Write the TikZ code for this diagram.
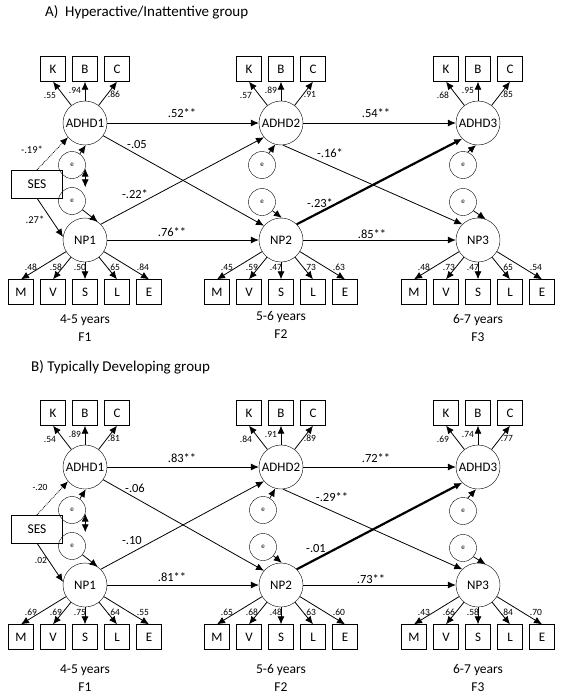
\documentclass[tikz,border=0pt]{standalone}
\usepackage{fontspec}
\setmainfont{Carlito}
\usetikzlibrary{arrows.meta}

\begin{document}
\begin{tikzpicture}[x=1pt, y=-1pt,
  lat/.style={draw=black, circle, minimum size=44pt, inner sep=0pt, font=\fontsize{13}{15}\selectfont},
  obs/.style={draw=black, minimum size=25pt, inner sep=0pt, font=\fontsize{13}{15}\selectfont},
  err/.style={draw=black, circle, minimum size=27pt, inner sep=0pt, font=\fontsize{7}{8}\selectfont},
  ses/.style={draw=black, minimum width=51pt, minimum height=28pt, inner sep=0pt, font=\fontsize{13.5}{15}\selectfont},
  coef/.style={font=\fontsize{12.5}{14}\selectfont, inner sep=0pt},
  sescoef/.style={font=\fontsize{10.5}{12}\selectfont, inner sep=0pt},
  ld/.style={font=\fontsize{9.5}{11}\selectfont, inner sep=0pt},
  lbl/.style={font=\fontsize{13.5}{16}\selectfont, inner sep=0pt},
  ttl/.style={font=\fontsize{15}{18}\selectfont, inner sep=0pt, anchor=west},
  arr/.style={-{Latex[length=8pt,width=7pt]}, line width=0.8pt},
  twoway/.style={{Latex[length=8pt,width=7pt]}-{Latex[length=8pt,width=7pt]}, line width=0.8pt}
]
\useasboundingbox (0,0) rectangle (562,698);

% A) Hyperactive/Inattentive group
\node[ttl] (atitle) at (45,12) {A)\ \ Hyperactive/Inattentive group};

\node[lat] (aadhd1) at (85,123) {ADHD1};
\node[lat] (aadhd2) at (281,123) {ADHD2};
\node[lat] (aadhd3) at (478,123) {ADHD3};
\node[lat] (anp1) at (85,240) {NP1};
\node[lat] (anp2) at (281,240) {NP2};
\node[lat] (anp3) at (478,240) {NP3};
\node[ses] (ases) at (37,184) {SES};
\node[err] (ae1) at (72,165) {e};
\node[err] (ae2) at (72,201) {e};
\node[err] (ae3) at (262,165) {e};
\node[err] (ae4) at (262,202) {e};
\node[err] (ae5) at (463,165) {e};
\node[err] (ae6) at (463,202) {e};

\foreach \c/\x/\la/\lb/\lc in {1/85/.55/.94/.86, 2/281/.57/.89/.91, 3/478/.68/.95/.85} {
  \node[obs] (ak\c) at (\x-32,69) {K};
  \node[obs] (ab\c) at (\x,69) {B};
  \node[obs] (ac\c) at (\x+32,69) {C};
  \draw[arr] (aadhd\c) -- (ak\c.south);
  \draw[arr] (aadhd\c) -- (ab\c.south);
  \draw[arr] (aadhd\c) -- (ac\c.south);
  \node[ld] (akl\c) at ([shift={(-3,14)}]ak\c.south) {\la};
  \node[ld] (abl\c) at ([shift={(-10,9)}]ab\c.south) {\lb};
  \node[ld] (acl\c) at ([shift={(-3,13)}]ac\c.south) {\lc};
}
\foreach \c/\x/\lM/\lV/\lS/\lL/\lE in {1/85/.48/.58/.50/.65/.84, 2/281/.45/.59/.47/.73/.63, 3/478/.48/.73/.47/.65/.54} {
  \foreach \i/\t/\dx/\v in {0/M/10/\lM, 1/V/3/\lV, 2/S/-5/\lS, 3/L/-3/\lL, 4/E/-6/\lE} {
    \node[obs] (anp\c\t) at (\x-64+32*\i,292) {\t};
    \draw[arr] (anp\c) -- (anp\c\t.north);
    \node[ld] (anp\c\t l) at ([shift={(\dx,-12)}]anp\c\t.north) {\v};
  }
}

\draw[arr] (aadhd1) -- (aadhd2);
\draw[arr] (aadhd2) -- (aadhd3);
\draw[arr] (anp1) -- (anp2);
\draw[arr] (anp2) -- (anp3);
\draw[arr] (aadhd1.-35) -- (anp2.140);
\draw[arr] (anp1.45) -- (aadhd2.-140);
\draw[arr] (aadhd2.-85) -- (anp3.135);
\draw[arr, line width=2.2pt] (anp2.45) -- (aadhd3.-135);
\draw[arr, densely dotted] (ases.north) -- (aadhd1.-140);
\draw[arr] (ases.south) -- (anp1.172);
\draw[arr] (ae1.55) -- (aadhd1.-88);
\draw[arr] (ae2.-40) -- (anp1.55);
\draw[arr] (ae3.60) -- (aadhd2.-105);
\draw[arr] (ae4.-40) -- (anp2.88);
\draw[arr] (ae5.70) -- (aadhd3.-95);
\draw[arr] (ae6.-40) -- (anp3.70);
\draw[twoway] (ae1.-15) -- (ae1.-15 |- ae2.north);

\node[coef] (ac12) at (182,113) {.52**};
\node[coef] (ac23) at (376,113) {.54**};
\node[coef] (acx1) at (137,144) {-.05};
\node[coef] (acx2) at (135,194) {-.22*};
\node[coef] (acn12) at (172,232) {.76**};
\node[coef] (acn23) at (372,234) {.85**};
\node[coef] (acx3) at (330,153) {-.16*};
\node[coef] (acx4) at (320,203) {-.23*};
\node[sescoef] (acs1) at (32,150) {-.19*};
\node[sescoef] (acs2) at (35,220) {.27*};

\node[lbl] (ay1) at (85,320) {4-5 years};
\node[lbl] (af1) at (85,337) {F1};
\node[lbl] (ay2) at (281,317) {5-6 years};
\node[lbl] (af2) at (281,334) {F2};
\node[lbl] (ay3) at (478,320) {6-7 years};
\node[lbl] (af3) at (478,337) {F3};

% B) Typically Developing group
\node[ttl] (btitle) at (31,367) {B) Typically Developing group};

\node[lat] (badhd1) at (85,467) {ADHD1};
\node[lat] (badhd2) at (281,467) {ADHD2};
\node[lat] (badhd3) at (478,467) {ADHD3};
\node[lat] (bnp1) at (85,585) {NP1};
\node[lat] (bnp2) at (281,585) {NP2};
\node[lat] (bnp3) at (478,585) {NP3};
\node[ses] (bses) at (37,529) {SES};
\node[err] (be1) at (72,510) {e};
\node[err] (be2) at (72,546) {e};
\node[err] (be3) at (263,510) {e};
\node[err] (be4) at (263,547) {e};
\node[err] (be5) at (463,511) {e};
\node[err] (be6) at (463,548) {e};

\foreach \c/\x/\la/\lb/\lc in {1/85/.54/.89/.81, 2/281/.84/.91/.89, 3/478/.69/.74/.77} {
  \node[obs] (bk\c) at (\x-32,413) {K};
  \node[obs] (bb\c) at (\x,413) {B};
  \node[obs] (bc\c) at (\x+32,413) {C};
  \draw[arr] (badhd\c) -- (bk\c.south);
  \draw[arr] (badhd\c) -- (bb\c.south);
  \draw[arr] (badhd\c) -- (bc\c.south);
  \node[ld] (bkl\c) at ([shift={(-3,14)}]bk\c.south) {\la};
  \node[ld] (bbl\c) at ([shift={(-10,9)}]bb\c.south) {\lb};
  \node[ld] (bcl\c) at ([shift={(-3,13)}]bc\c.south) {\lc};
}
\foreach \c/\x/\lM/\lV/\lS/\lL/\lE in {1/85/.69/.69/.75/.64/.55, 2/281/.65/.68/.48/.63/.60, 3/478/.43/.66/.58/.84/.70} {
  \foreach \i/\t/\dx/\v in {0/M/10/\lM, 1/V/3/\lV, 2/S/-5/\lS, 3/L/-3/\lL, 4/E/-6/\lE} {
    \node[obs] (bnp\c\t) at (\x-64+32*\i,637) {\t};
    \draw[arr] (bnp\c) -- (bnp\c\t.north);
    \node[ld] (bnp\c\t l) at ([shift={(\dx,-12)}]bnp\c\t.north) {\v};
  }
}

\draw[arr] (badhd1) -- (badhd2);
\draw[arr] (badhd2) -- (badhd3);
\draw[arr] (bnp1) -- (bnp2);
\draw[arr] (bnp2) -- (bnp3);
\draw[arr] (badhd1.-35) -- (bnp2.140);
\draw[arr] (bnp1.45) -- (badhd2.-140);
\draw[arr] (badhd2.-85) -- (bnp3.135);
\draw[arr, line width=2.2pt] (bnp2.45) -- (badhd3.-135);
\draw[arr, densely dotted] (bses.north) -- (badhd1.-140);
\draw[arr] (bses.south) -- (bnp1.172);
\draw[arr] (be1.55) -- (badhd1.-88);
\draw[arr] (be2.-40) -- (bnp1.55);
\draw[arr] (be3.60) -- (badhd2.-105);
\draw[arr] (be4.-40) -- (bnp2.88);
\draw[arr] (be5.70) -- (badhd3.-95);
\draw[arr] (be6.-40) -- (bnp3.70);
\draw[twoway] (be1.-15) -- (be1.-15 |- be2.north);

\node[coef] (bc12) at (182,458) {.83**};
\node[coef] (bc23) at (376,458) {.72**};
\node[coef] (bcx1) at (135,488) {-.06};
\node[coef] (bcx2) at (132,540) {-.10};
\node[coef] (bcn12) at (172,577) {.81**};
\node[coef] (bcn23) at (371,579) {.73**};
\node[coef] (bcx3) at (332,497) {-.29**};
\node[coef] (bcx4) at (316,548) {-.01};
\node[ld] (bcs1) at (40,487) {-.20};
\node[ld] (bcs2) at (41,560) {.02};

\node[lbl] (by1) at (85,670) {4-5 years};
\node[lbl] (bf1) at (85,687) {F1};
\node[lbl] (by2) at (281,670) {5-6 years};
\node[lbl] (bf2) at (281,687) {F2};
\node[lbl] (by3) at (478,670) {6-7 years};
\node[lbl] (bf3) at (478,687) {F3};
\end{tikzpicture}
\end{document}
